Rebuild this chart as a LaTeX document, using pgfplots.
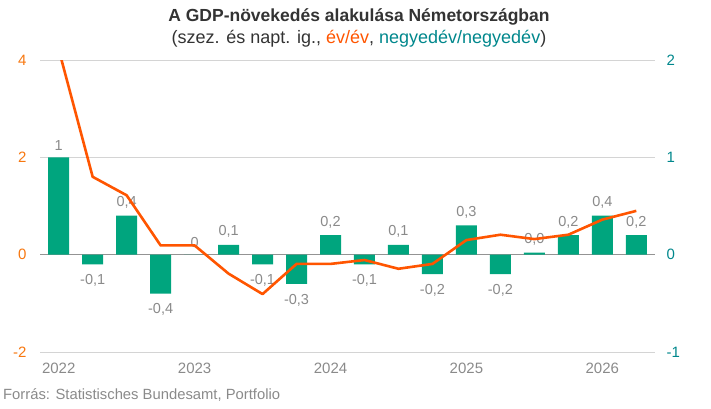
\documentclass[border=0pt]{standalone}
\usepackage{pgfplots}
\pgfplotsset{compat=1.18}
\usepackage{pgfplotstable}
\usepackage{fontspec}
\setmainfont{Liberation Sans}
\definecolor{bargreen}{HTML}{00A57E}
\definecolor{lineorange}{HTML}{FF5500}
\definecolor{ticko}{HTML}{F7770F}
\definecolor{tickt}{HTML}{00878C}
\definecolor{lblgray}{HTML}{8A8A8A}
\definecolor{gridgray}{HTML}{D4D4D4}
\definecolor{titlegray}{HTML}{333333}

\pgfplotstableread{
x q lab
0 1.0 1
1 -0.1 -0,1
2 0.4 0,4
3 -0.4 -0,4
4 0.0 0
5 0.1 0,1
6 -0.1 -0,1
7 -0.3 -0,3
8 0.2 0,2
9 -0.1 -0,1
10 0.1 0,1
11 -0.2 -0,2
12 0.3 0,3
13 -0.2 -0,2
14 0.02 0,0
15 0.2 0,2
16 0.4 0,4
17 0.2 0,2
}\bars

\pgfplotstableread{
x y
0 4.22
1 1.60
2 1.22
3 0.19
4 0.19
5 -0.39
6 -0.81
7 -0.19
8 -0.19
9 -0.11
10 -0.29
11 -0.19
12 0.30
13 0.41
14 0.32
15 0.41
16 0.72
17 0.90
}\yoy

\begin{document}
\begin{tikzpicture}
\useasboundingbox (0,0) rectangle (711bp,409bp);
\node[font=\bfseries\fontsize{17.5bp}{20bp}\selectfont, color=titlegray] at (359bp,392bp) {A GDP-növekedés alakulása Németországban};
\node[font=\fontsize{18bp}{20bp}\selectfont, color=titlegray] at (359bp,370bp) {(szez. és napt. ig., {\color{lineorange}év/év}, {\color{tickt}negyedév/negyedév})};
\node[anchor=south west, font=\fontsize{14.8bp}{16bp}\selectfont, color=lblgray, inner sep=0pt] at (3bp,7bp) {Forrás: Statistisches Bundesamt, Portfolio};

\begin{axis}[
  scale only axis, width=615bp, height=292bp,
  at={(40bp,57bp)}, anchor=south west,
  xmin=-0.55, xmax=17.55, ymin=-1, ymax=2,
  axis y line*=right, axis x line=none,
  axis line style={draw=none},
  ytick={-1,0,1,2}, yticklabels={-1,0,1,2},
  major tick length=0pt,
  yticklabel style={color=tickt, font=\fontsize{15bp}{17bp}\selectfont, anchor=west, xshift=8bp},
  ymajorgrids, grid style={gridgray, line width=0.8bp},
  extra y ticks={0}, extra y tick labels={},
  extra y tick style={grid style={draw=gray!85, line width=1bp}},
  nodes near coords,
  point meta=explicit symbolic,
  visualization depends on={rawy \as \rawy},
  nodes near coords style={font=\fontsize{14.5bp}{16bp}\selectfont, color=lblgray, inner xsep=0pt, inner ysep=7bp,
    anchor=\ifdim\rawy pt<0pt north\else south\fi,
    yshift={-3*(\rawy<0)}},
]
\addplot[ybar, bar width=21bp, fill=bargreen, draw=none] table[x=x, y=q, meta=lab] {\bars};
\end{axis}

\begin{axis}[
  scale only axis, width=615bp, height=292bp,
  at={(40bp,57bp)}, anchor=south west,
  xmin=-0.55, xmax=17.55, ymin=-2, ymax=4,
  axis y line*=left, axis x line*=bottom,
  axis line style={draw=none},
  ytick={-2,0,2,4}, yticklabels={-2,0,2,4},
  xtick={0,4,8,12,16}, xticklabels={2022,2023,2024,2025,2026},
  major tick length=0pt,
  yticklabel style={color=ticko, font=\fontsize{15bp}{17bp}\selectfont, anchor=east, xshift=-10bp},
  xticklabel style={color=lblgray, font=\fontsize{15bp}{17bp}\selectfont, anchor=north, yshift=-8bp},
]
\addplot[lineorange, line width=2.6bp, line join=round] table[x=x, y=y] {\yoy};
\end{axis}
\end{tikzpicture}
\end{document}
